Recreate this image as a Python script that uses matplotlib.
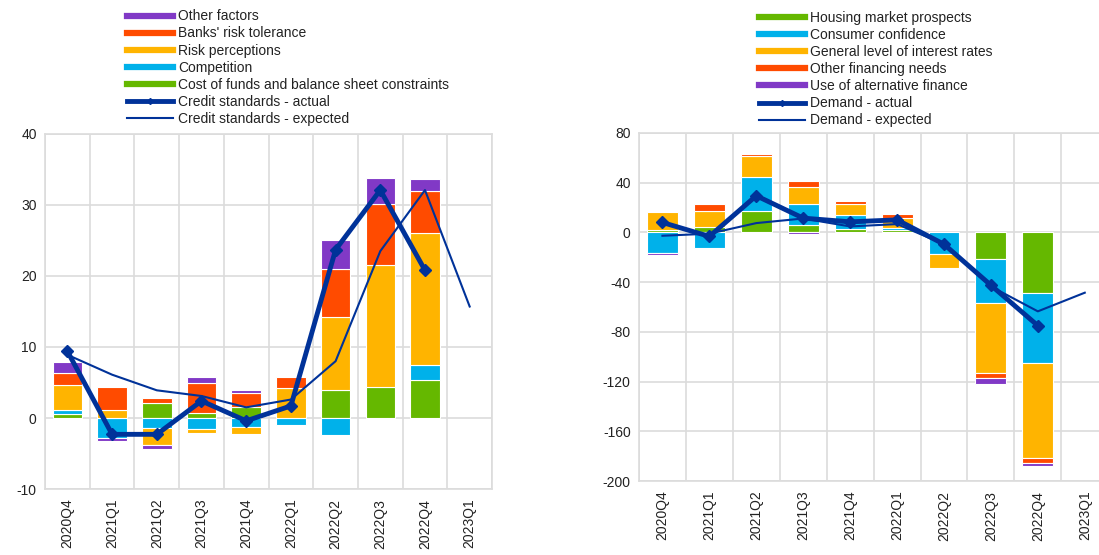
import matplotlib
matplotlib.use("Agg")
import matplotlib.pyplot as plt
import numpy as np
from matplotlib.lines import Line2D

plt.rcParams.update({
    "font.family": ["Liberation Sans", "DejaVu Sans"],
    "font.size": 10,
    "axes.unicode_minus": False,
    "figure.facecolor": "white",
    "axes.facecolor": "white",
    "text.color": "#222222",
    "xtick.color": "#222222",
    "ytick.color": "#222222",
})

# ECB-style palette
NAVY = "#003299"
YELLOW = "#ffb400"
RED = "#ff4b00"
GREEN = "#65b800"
CYAN = "#00b1ea"
PURPLE = "#8139c6"
GRID = "#dcdcdc"

quarters = ["2020Q4", "2021Q1", "2021Q2", "2021Q3", "2021Q4",
            "2022Q1", "2022Q2", "2022Q3", "2022Q4", "2023Q1"]

# Left panel: credit standards, contributions of factors
cost_of_funds = [0.5, 0.0, 2.15, 0.75, 1.55, 0.0, 3.9, 4.35, 5.3, np.nan]
competition = [0.6, -2.75, -1.35, -1.5, -1.2, -1.0, -2.4, 0.0, 2.15, np.nan]
risk_perceptions = [3.5, 1.1, -2.45, -0.55, -1.1, 4.25, 10.3, 17.2, 18.6, np.nan]
risk_tolerance = [1.8, 3.2, 0.7, 4.25, 2.0, 1.55, 6.8, 8.6, 5.9, np.nan]
other_factors = [1.5, -0.45, -0.6, 0.75, 0.35, 0.0, 4.0, 3.7, 1.65, np.nan]
credit_actual = [9.4, -2.3, -2.3, 2.4, -0.4, 1.7, 23.7, 32.1, 20.8, np.nan]
credit_expected = [8.9, 6.1, 3.9, 3.1, 1.5, 2.6, 8.0, 23.5, 32.1, 15.7]

# Right panel: demand, contributions of factors
housing = [1.8, 4.5, 17.3, 5.9, 2.7, 2.1, 0.0, -21.0, -49.0, np.nan]
confidence = [-16.5, -12.5, 27.5, 17.3, 11.2, 1.5, -17.6, -35.8, -55.9, np.nan]
interest_rates = [14.7, 12.5, 17.0, 13.6, 9.3, 7.9, -10.8, -56.2, -76.7, np.nan]
other_financing = [0.0, 6.2, 1.6, 4.5, 2.1, 3.2, 0.0, -3.8, -3.8, np.nan]
alt_finance = [-1.5, 0.0, 0.0, -1.5, 0.0, 0.0, 0.0, -5.2, -2.6, np.nan]
demand_actual = [8.0, -3.2, 29.5, 11.5, 8.5, 10.1, -9.5, -42.5, -75.0, np.nan]
demand_expected = [-2.7, -1.0, 7.5, 11.2, 4.8, 6.7, -9.5, -43.5, -63.5, -48.5]


def stacked(ax, series, colors):
    x = np.arange(len(quarters))
    pos = np.zeros(len(quarters))
    neg = np.zeros(len(quarters))
    for vals, c in zip(series, colors):
        v = np.array(vals, dtype=float)
        ok = ~np.isnan(v) & (v != 0)
        v0 = np.nan_to_num(v)
        bottom = np.where(v0 >= 0, pos, neg)
        ax.bar(x[ok], v0[ok], 0.66, bottom=bottom[ok], color=c,
               edgecolor="white", linewidth=0.8, zorder=2)
        pos += np.where(v0 >= 0, v0, 0)
        neg += np.where(v0 < 0, v0, 0)


def style(ax, yticks):
    ax.set_xlim(-0.5, len(quarters) - 0.5)
    ax.set_ylim(yticks[0], yticks[-1])
    ax.set_yticks(yticks)
    ax.set_xticks(np.arange(len(quarters)))
    ax.set_xticklabels(quarters, rotation=90)
    ax.set_xticks(np.arange(len(quarters) + 1) - 0.5, minor=True)
    ax.grid(axis="y", color=GRID, linewidth=1.2, zorder=0)
    ax.grid(axis="x", which="minor", color=GRID, linewidth=1.2, zorder=0)
    ax.tick_params(which="both", length=0)
    ax.tick_params(axis="y", pad=6)
    ax.tick_params(axis="x", pad=7)
    ax.set_axisbelow(True)
    for s in ax.spines.values():
        s.set_color(GRID)
        s.set_linewidth(1.2)


fig = plt.figure(figsize=(10.99, 5.55), dpi=100)
x = np.arange(len(quarters))

# left chart
ax1 = fig.add_axes([0.041, 0.1189, 0.4067, 0.6397])
stacked(ax1, [cost_of_funds, competition, risk_perceptions, risk_tolerance, other_factors],
        [GREEN, CYAN, YELLOW, RED, PURPLE])
ax1.plot(x, credit_actual, color=NAVY, linewidth=3.5, marker="D", markersize=6, zorder=4)
ax1.plot(x, credit_expected, color=NAVY, linewidth=1.5, zorder=3)
style(ax1, np.arange(-10, 41, 10))

h1 = [
    Line2D([], [], color=PURPLE, linewidth=4.5),
    Line2D([], [], color=RED, linewidth=4.5),
    Line2D([], [], color=YELLOW, linewidth=4.5),
    Line2D([], [], color=CYAN, linewidth=4.5),
    Line2D([], [], color=GREEN, linewidth=4.5),
    Line2D([], [], color=NAVY, linewidth=3.5, marker="D", markersize=3, markevery=[1]),
    Line2D([], [], color=NAVY, linewidth=1.5),
]
l1 = ["Other factors", "Banks' risk tolerance", "Risk perceptions", "Competition",
      "Cost of funds and balance sheet constraints",
      "Credit standards - actual", "Credit standards - expected"]
fig.legend(h1, l1, loc="upper left", bbox_to_anchor=(0.116, 0.983), frameon=False,
           borderpad=0, borderaxespad=0, handlelength=3.3, handletextpad=0.35,
           labelspacing=0.22, fontsize=10)

# right chart
ax2 = fig.add_axes([0.5814, 0.1333, 0.427, 0.6271])
stacked(ax2, [housing, confidence, interest_rates, other_financing, alt_finance],
        [GREEN, CYAN, YELLOW, RED, PURPLE])
ax2.plot(x, demand_actual, color=NAVY, linewidth=3.5, marker="D", markersize=6, zorder=4)
ax2.plot(x, demand_expected, color=NAVY, linewidth=1.5, zorder=3)
style(ax2, np.arange(-200, 81, 40))

h2 = [
    Line2D([], [], color=GREEN, linewidth=4.5),
    Line2D([], [], color=CYAN, linewidth=4.5),
    Line2D([], [], color=YELLOW, linewidth=4.5),
    Line2D([], [], color=RED, linewidth=4.5),
    Line2D([], [], color=PURPLE, linewidth=4.5),
    Line2D([], [], color=NAVY, linewidth=3.5, marker="D", markersize=3, markevery=[1]),
    Line2D([], [], color=NAVY, linewidth=1.5),
]
l2 = ["Housing market prospects", "Consumer confidence", "General level of interest rates",
      "Other financing needs", "Use of alternative finance",
      "Demand - actual", "Demand - expected"]
fig.legend(h2, l2, loc="upper left", bbox_to_anchor=(0.691, 0.98), frameon=False,
           borderpad=0, borderaxespad=0, handlelength=3.3, handletextpad=0.35,
           labelspacing=0.22, fontsize=10)

fig.savefig("out.png", dpi=100)
